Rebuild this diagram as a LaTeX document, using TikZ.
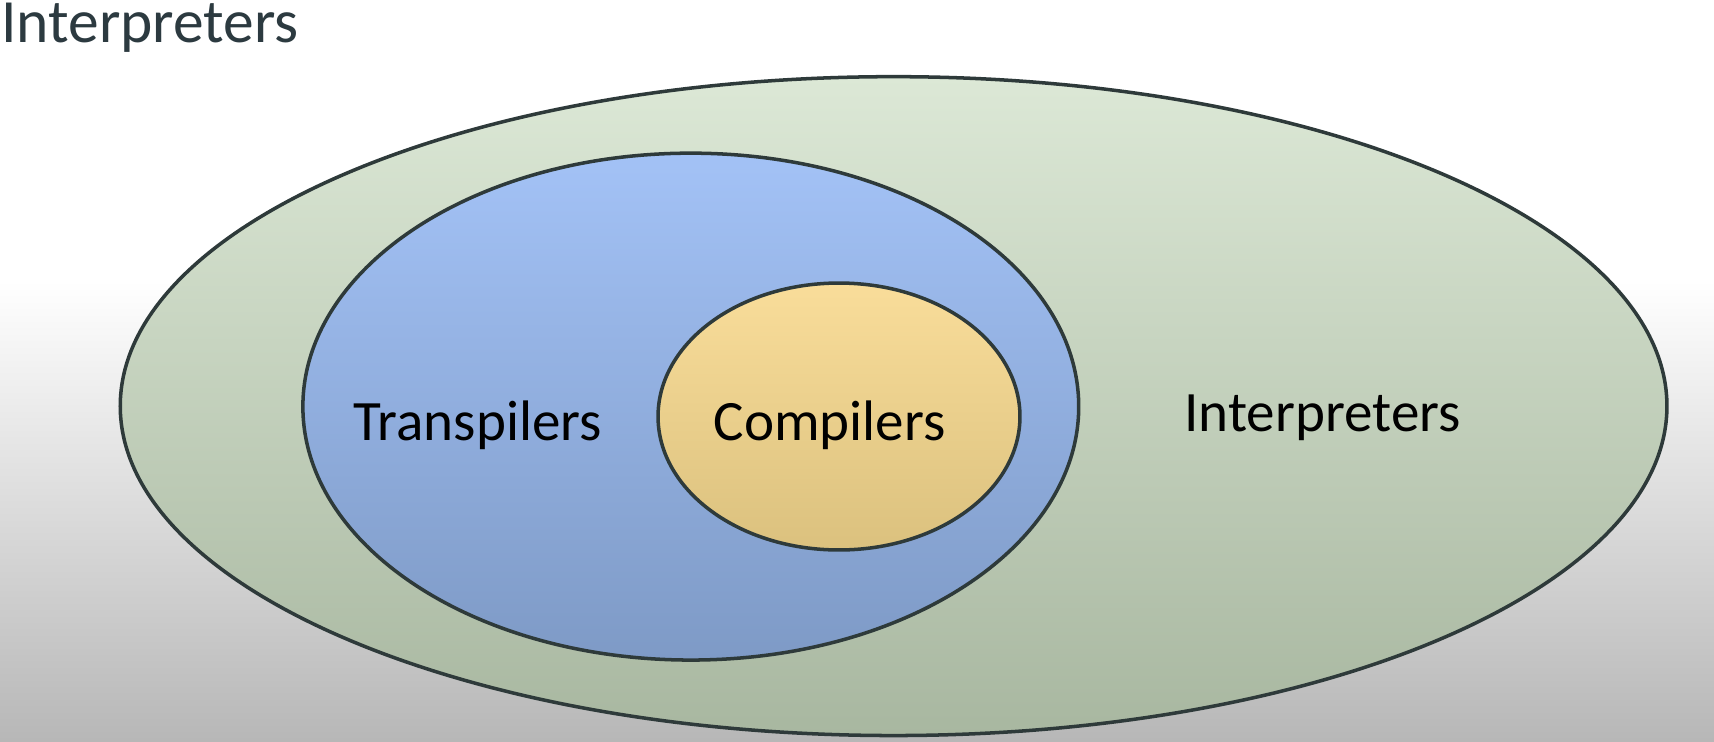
\documentclass[tikz,border=0pt]{standalone}
\usepackage{fontspec}
\setmainfont{Carlito}
\usetikzlibrary{shapes.geometric}
\definecolor{outline}{HTML}{2E3A3A}
\definecolor{titlecol}{HTML}{2C3A40}
\definecolor{bgbottom}{HTML}{B7B7B7}
\definecolor{greentop}{HTML}{DCE8D6}
\definecolor{greenbot}{HTML}{A8B7A0}
\definecolor{bluetop}{HTML}{A3C2F6}
\definecolor{bluebot}{HTML}{7E9AC6}
\definecolor{yellowtop}{HTML}{F9DD9A}
\definecolor{yellowbot}{HTML}{DBC17E}

\begin{document}
\begin{tikzpicture}[x=0.02cm,y=-0.02cm,
  set/.style={ellipse,draw=outline,line width=2pt,inner sep=0pt},
  lbl/.style={font=\fontsize{32.5}{38}\selectfont,text=black,anchor=base,inner sep=0pt}]
\useasboundingbox (0,0) rectangle (1714,741);
% background
\fill[white] (0,0) rectangle (1714,281);
\shade[top color=white,bottom color=bgbottom] (0,280) rectangle (1714,741);
\node[anchor=base west,inner sep=0pt,font=\fontsize{35}{42}\selectfont,text=titlecol] (title) at (1,42) {Interpreters};
% nested sets
\node[set,top color=greentop,bottom color=greenbot,minimum width=30.94cm,minimum height=13.18cm] (interp) at (893.6,406.1) {};
\node[set,top color=bluetop,bottom color=bluebot,minimum width=15.52cm,minimum height=10.14cm] (trans) at (690.8,406.6) {};
\node[set,top color=yellowtop,bottom color=yellowbot,minimum width=7.24cm,minimum height=5.34cm] (comp) at (839,416.5) {};
% labels
\node[lbl] (translbl) at (477.7,440) {Transpilers};
\node[lbl] (complbl) at (829.7,440) {Compilers};
\node[lbl] (interplbl) at (1322.6,431) {Interpreters};
\end{tikzpicture}
\end{document}
